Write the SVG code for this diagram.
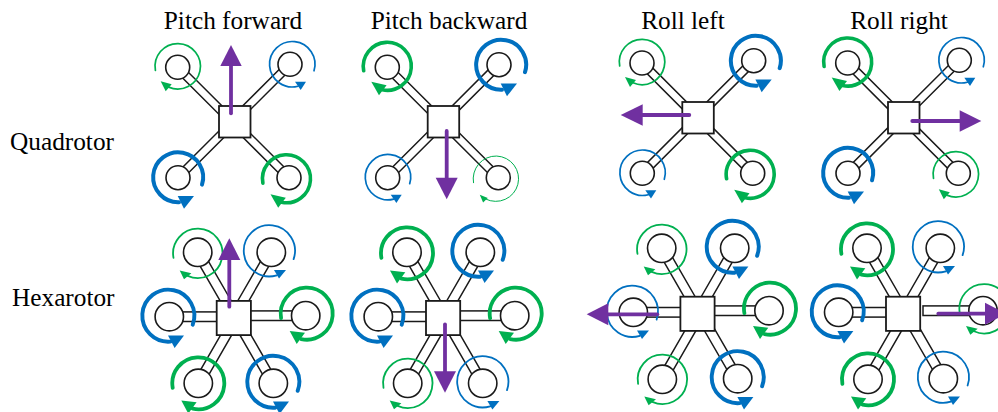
<svg xmlns="http://www.w3.org/2000/svg" xmlns:xlink="http://www.w3.org/1999/xlink" width="998" height="412" viewBox="0 0 998 412">
<style>
text{font-family:"Liberation Serif","Times New Roman",serif;font-size:25.3px;fill:#000}
.t{text-anchor:middle}
.body,.rotor{fill:#fff;stroke:#1a1a1a}
.body{stroke-width:1.8}
.rotor{stroke-width:1.6}
.arm{fill:#fff;stroke:#1a1a1a;stroke-width:1.5}
.a{fill:none;stroke-linecap:round}
.gs{stroke:#00B050}.gf{fill:#00B050}
.bs{stroke:#0070C0}.bf{fill:#0070C0}
.s{stroke:#7030A0;stroke-width:3.8;stroke-linecap:round;fill:none}
.h{fill:#7030A0}
</style>
<defs>
<rect id="aq" class="arm" x="0" y="-4" width="68" height="8"/>
<rect id="ad" class="arm" x="0" y="-4.8" width="60" height="9.6"/>
<rect id="ah" class="arm" x="0" y="-4.8" width="60" height="9.6"/>
<g id="gt"><path class="a gs" stroke-width="1" d="M-22.3 4A22.7 22.7 0 1 1-10 20.4"/><polygon class="gf" points="-16,16 -8,19.3 -12.7,23.7"/></g>
<g id="g1"><path class="a gs" stroke-width="1.7" d="M-22.3 4A22.7 22.7 0 1 1-9 20.8"/><polygon class="gf" points="-17,15 -6,18 -12,25"/></g>
<g id="g3"><path class="a gs" stroke-width="3.6" d="M-23.6 4.5A24 24 0 1 1-5 23.5"/><polygon class="gf" points="-16,15.5 -0.7,19 -8.3,29"/></g>
<g id="G1"><path class="a gs" stroke-width="1.8" d="M-24.2 4.5A24.7 24.7 0 1 1-10 22.6"/><polygon class="gf" points="-18,17.3 -6.3,20 -13.7,26"/></g>
<g id="G3"><path class="a gs" stroke-width="3.8" d="M-25.6 4.5A26 26 0 1 1-5.5 25.4"/><polygon class="gf" points="-17,17.3 -1.7,19 -10,30.3"/></g>
<g id="b1"><path class="a bs" stroke-width="1.7" d="M22 6.5A22.7 22.7 0 1 0 6 21.9"/><polygon class="bf" points="3,17.5 14,17.5 8.7,25.8"/></g>
<g id="b3"><path class="a bs" stroke-width="4" d="M24 7.5A25 25 0 1 0 1 25"/><polygon class="bf" points="-0.3,18.7 16,18.7 6,31.5"/></g>
<g id="B1"><path class="a bs" stroke-width="1.8" d="M24.3 8.3A25.6 25.6 0 1 0 7.5 24.5"/><polygon class="bf" points="4.7,19.3 16.7,19.3 9.7,27.7"/></g>
<g id="B3"><path class="a bs" stroke-width="3.9" d="M24.4 9A26 26 0 1 0 2 25.9"/><polygon class="bf" points="-0.3,19.7 15.7,19.7 6.3,32.3"/></g>
</defs>
<g id="labels">
<text class="t" x="233" y="29">Pitch forward</text>
<text class="t" x="449" y="29">Pitch backward</text>
<text class="t" x="683" y="29">Roll left</text>
<text class="t" x="899" y="29">Roll right</text>
<text x="10" y="150">Quadrotor</text>
<text x="12" y="306">Hexarotor</text>
</g>
<g id="connectors">
<use href="#aq" transform="translate(177.7 67.3) rotate(45)"/><use href="#aq" transform="translate(290 64.3) rotate(135)"/><use href="#aq" transform="translate(178 177.7) rotate(315)"/><use href="#aq" transform="translate(289 177.7) rotate(225)"/>
<use href="#aq" transform="translate(387.3 67.3) rotate(45)"/><use href="#aq" transform="translate(499 64.7) rotate(135)"/><use href="#aq" transform="translate(387.7 177.7) rotate(315)"/><use href="#aq" transform="translate(498.3 177.7) rotate(225)"/>
<use href="#aq" transform="translate(642 63) rotate(45)"/><use href="#aq" transform="translate(753.7 60.7) rotate(135)"/><use href="#aq" transform="translate(642.3 173.3) rotate(315)"/><use href="#aq" transform="translate(752.7 173.3) rotate(225)"/>
<use href="#aq" transform="translate(847.7 63) rotate(45)"/><use href="#aq" transform="translate(959.3 60.3) rotate(135)"/><use href="#aq" transform="translate(848 173.3) rotate(315)"/><use href="#aq" transform="translate(958.3 173.3) rotate(225)"/>
<use href="#ad" transform="translate(197.7 252.3) rotate(60)"/><use href="#ad" transform="translate(271.3 252.3) rotate(120)"/><use href="#ah" transform="translate(169.3 316.7)"/><use href="#ah" transform="translate(305.7 315.7) rotate(180)"/><use href="#ad" transform="translate(198.3 383.3) rotate(300)"/><use href="#ad" transform="translate(273.3 383.3) rotate(240)"/>
<use href="#ad" transform="translate(407 252.3) rotate(60)"/><use href="#ad" transform="translate(480.3 252.3) rotate(120)"/><use href="#ah" transform="translate(378.3 316.7)"/><use href="#ah" transform="translate(514.7 315.7) rotate(180)"/><use href="#ad" transform="translate(407.7 383.3) rotate(300)"/><use href="#ad" transform="translate(482.7 383.3) rotate(240)"/>
<use href="#ad" transform="translate(661.7 248.3) rotate(60)"/><use href="#ad" transform="translate(734.7 248.3) rotate(120)"/><use href="#ah" transform="translate(633.3 312.3)"/><use href="#ah" transform="translate(769 310.7) rotate(180)"/><use href="#ad" transform="translate(662.3 379.3) rotate(300)"/><use href="#ad" transform="translate(737.7 378.7) rotate(240)"/>
<use href="#ad" transform="translate(867 248.3) rotate(60)"/><use href="#ad" transform="translate(940.3 248.3) rotate(120)"/><use href="#ah" transform="translate(838.7 312.3)"/><use href="#ah" transform="translate(983 310.7) rotate(180)"/><use href="#ad" transform="translate(868 379.3) rotate(300)"/><use href="#ad" transform="translate(943.3 378.7) rotate(240)"/>
</g>
<g id="quad-pitch-forward">
<rect class="body" x="219" y="106" width="31.5" height="31.5"/>
<circle class="rotor" cx="177.7" cy="67.3" r="12"/><circle class="rotor" cx="290" cy="64.3" r="12"/><circle class="rotor" cx="178" cy="177.7" r="12"/><circle class="rotor" cx="289" cy="177.7" r="12"/>
<use href="#g1" x="177.7" y="66.3"/><use href="#b1" x="292" y="64.3"/><use href="#b3" x="178" y="177.2"/><use href="#g3" x="286.5" y="178.7"/>
</g>
<g id="quad-pitch-backward">
<rect class="body" x="427.7" y="106" width="31.5" height="31.5"/>
<circle class="rotor" cx="387.3" cy="67.3" r="12"/><circle class="rotor" cx="499" cy="64.7" r="12"/><circle class="rotor" cx="387.7" cy="177.7" r="12"/><circle class="rotor" cx="498.3" cy="177.7" r="12"/>
<use href="#g3" x="387.3" y="66.3"/><use href="#b3" x="501" y="64.7"/><use href="#b1" x="387.7" y="177.2"/><use href="#gt" x="495.8" y="178.7"/>
</g>
<g id="quad-roll-left">
<rect class="body" x="682.3" y="102" width="31.5" height="31.5"/>
<circle class="rotor" cx="642" cy="63" r="12"/><circle class="rotor" cx="753.7" cy="60.7" r="12"/><circle class="rotor" cx="642.3" cy="173.3" r="12"/><circle class="rotor" cx="752.7" cy="173.3" r="12"/>
<use href="#g1" x="642" y="62"/><use href="#b3" x="755.7" y="60.7"/><use href="#b1" x="642.3" y="172.8"/><use href="#g3" x="750.2" y="174.3"/>
</g>
<g id="quad-roll-right">
<rect class="body" x="888" y="102" width="31.5" height="31.5"/>
<circle class="rotor" cx="847.7" cy="63" r="12"/><circle class="rotor" cx="959.3" cy="60.3" r="12"/><circle class="rotor" cx="848" cy="173.3" r="12"/><circle class="rotor" cx="958.3" cy="173.3" r="12"/>
<use href="#g3" x="847.7" y="62"/><use href="#b1" x="961.3" y="60.3"/><use href="#b3" x="848" y="172.8"/><use href="#g1" x="955.8" y="174.3"/>
</g>
<g id="hex-pitch-forward">
<rect class="body" x="216.7" y="300.9" width="34.2" height="34.2"/>
<circle class="rotor" cx="197.7" cy="252.3" r="14.2"/><circle class="rotor" cx="271.3" cy="252.3" r="14.2"/><circle class="rotor" cx="169.3" cy="316.7" r="14.2"/><circle class="rotor" cx="305.7" cy="315.7" r="14.2"/><circle class="rotor" cx="198.3" cy="383.3" r="14.2"/><circle class="rotor" cx="273.3" cy="383.3" r="14.2"/>
<use href="#G1" x="197.7" y="253.3"/><use href="#B1" x="269.3" y="250.8"/><use href="#B3" x="168.3" y="315.7"/><use href="#G3" x="306.7" y="313.7"/><use href="#G3" x="198.3" y="383.3"/><use href="#B3" x="273.3" y="381.8"/>
</g>
<g id="hex-pitch-backward">
<rect class="body" x="426" y="300.9" width="34.2" height="34.2"/>
<circle class="rotor" cx="407" cy="252.3" r="14.2"/><circle class="rotor" cx="480.3" cy="252.3" r="14.2"/><circle class="rotor" cx="378.3" cy="316.7" r="14.2"/><circle class="rotor" cx="514.7" cy="315.7" r="14.2"/><circle class="rotor" cx="407.7" cy="383.3" r="14.2"/><circle class="rotor" cx="482.7" cy="383.3" r="14.2"/>
<use href="#G3" x="407" y="253.3"/><use href="#B3" x="478.3" y="250.8"/><use href="#B3" x="377.3" y="315.7"/><use href="#G3" x="515.7" y="313.7"/><use href="#G1" x="407.7" y="383.3"/><use href="#B1" x="482.7" y="381.8"/>
</g>
<g id="hex-roll-left">
<rect class="body" x="680.4" y="296.7" width="34.2" height="34.2"/>
<circle class="rotor" cx="661.7" cy="248.3" r="14.2"/><circle class="rotor" cx="734.7" cy="248.3" r="14.2"/><circle class="rotor" cx="633.3" cy="312.3" r="14.2"/><circle class="rotor" cx="769" cy="310.7" r="14.2"/><circle class="rotor" cx="662.3" cy="379.3" r="14.2"/><circle class="rotor" cx="737.7" cy="378.7" r="14.2"/>
<use href="#G1" x="661.7" y="249.3"/><use href="#B3" x="732.7" y="246.8"/><use href="#B1" x="632.3" y="311.3"/><use href="#G3" x="770" y="308.7"/><use href="#G1" x="662.3" y="379.3"/><use href="#B3" x="737.7" y="377.2"/>
</g>
<g id="hex-roll-right">
<rect class="body" x="886" y="296.7" width="34.2" height="34.2"/>
<circle class="rotor" cx="867" cy="248.3" r="14.2"/><circle class="rotor" cx="940.3" cy="248.3" r="14.2"/><circle class="rotor" cx="838.7" cy="312.3" r="14.2"/><circle class="rotor" cx="983" cy="310.7" r="14.2"/><circle class="rotor" cx="868" cy="379.3" r="14.2"/><circle class="rotor" cx="943.3" cy="378.7" r="14.2"/>
<use href="#G3" x="867" y="249.3"/><use href="#B1" x="938.3" y="246.8"/><use href="#B3" x="837.7" y="311.3"/><use href="#G1" x="984" y="308.7"/><use href="#G3" x="868" y="379.3"/><use href="#B1" x="943.3" y="377.2"/>
</g>
<g id="motion-arrows">
<path class="s" d="M231 113.3V64"/><polygon class="h" points="231,45 241.7,66 220.3,66"/>
<path class="s" d="M446.7 131V179"/><polygon class="h" points="446.7,199.3 457.7,177.7 435.7,177.7"/>
<path class="s" d="M689.3 115H641"/><polygon class="h" points="620.7,115 642.7,104.3 642.7,125.7"/>
<path class="s" d="M912.3 121H961"/><polygon class="h" points="981.3,121 959.7,110.3 959.7,131.7"/>
<path class="s" d="M229.3 306.7V258"/><polygon class="h" points="229.3,238.3 240.3,260 218.3,260"/>
<path class="s" d="M445 324.3V373"/><polygon class="h" points="445,392.7 456,371.3 434,371.3"/>
<path class="s" d="M657.3 314.3H607"/><polygon class="h" points="586.7,314.3 608.3,303.3 608.3,325.3"/>
<path class="s" d="M938.3 313.7H986"/><polygon class="h" points="1006,313.7 985,302.7 985,324.7"/>
</g>
</svg>
